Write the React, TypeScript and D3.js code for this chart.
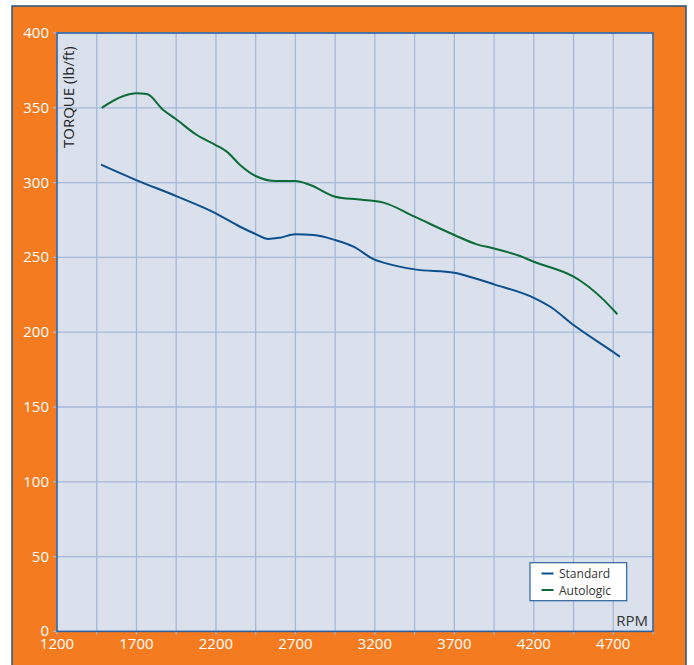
import React from "react";
import * as d3 from "d3";

const standardRpm = [1477, 1698, 1950, 2199, 2352, 2450, 2530, 2604, 2698, 2814, 2951, 3066, 3198, 3254, 3450, 3700, 3759, 3950, 4200, 4304, 4450, 4702, 4742];
const standardTorque = [312, 301.7, 291, 279.5, 270.5, 265.6, 262.3, 263.2, 265.4, 265, 261.6, 257.2, 248.5, 246.5, 242, 239.8, 238.2, 232, 223, 217, 204.8, 186.6, 183.6];

const autoRpm = [1481, 1618, 1698, 1765, 1869, 1950, 2080, 2199, 2268, 2352, 2450, 2582, 2698, 2793, 2951, 3087, 3198, 3254, 3450, 3700, 3842, 3950, 4113, 4200, 4450, 4495, 4702, 4726];
const autoTorque = [350, 357.9, 359.7, 359.2, 348.5, 342.3, 331.8, 325.1, 320.7, 311.8, 304.4, 301, 301, 298.4, 290.6, 288.8, 287.7, 286.6, 277.2, 265, 258.7, 256, 250.9, 247.1, 237.1, 234.2, 214.8, 212];

const xTickLabels = [1200, 1700, 2200, 2700, 3200, 3700, 4200, 4700];
const xGrid = d3.range(1200, 4951, 250);
const yTicks = [0, 50, 100, 150, 200, 250, 300, 350, 400];
const seriesNames = ["Standard", "Autologic"];

const W = 694, H = 665;
const left = 57, right = 653, top = 33, bottom = 631.4;
const font = "'Open Sans', 'Noto Sans', sans-serif";
const blue = "#0b4f8f";
const green = "#0b6b37";

export default function App() {
  const x = d3.scaleLinear().domain([1200, 4950]).range([left, right]);
  const y = d3.scaleLinear().domain([0, 400]).range([bottom, top]);
  const line = d3.line<[number, number]>().x(d => x(d[0])).y(d => y(d[1])).curve(d3.curveMonotoneX);
  const std = standardRpm.map((r, i) => [r, standardTorque[i]] as [number, number]);
  const aut = autoRpm.map((r, i) => [r, autoTorque[i]] as [number, number]);

  return (
    <svg width={W} height={H} style={{ position: "absolute", left: 0, top: 0 }} fontFamily={font}>
      <rect x={12} y={6} width={674} height={670} fill="#f47b20" stroke="#1f5585" strokeWidth={1.5} />
      <rect x={left} y={top} width={right - left} height={bottom - top} fill="#dae1ed" />
      {xGrid.map(v => (
        <line key={"xg" + v} x1={x(v)} x2={x(v)} y1={top} y2={bottom} stroke="#a6b8d8" strokeWidth={1.3} />
      ))}
      {yTicks.map(v => (
        <line key={"yg" + v} x1={left} x2={right} y1={y(v)} y2={y(v)} stroke="#a6b8d8" strokeWidth={1.3} />
      ))}
      {xGrid.map(v => (
        <line key={"xt" + v} x1={x(v)} x2={x(v)} y1={bottom} y2={bottom + 3} stroke="#a6b8d8" strokeWidth={1.3} />
      ))}
      {yTicks.map(v => (
        <line key={"yt" + v} x1={left - 4} x2={left} y1={y(v)} y2={y(v)} stroke="#a6b8d8" strokeWidth={1.3} />
      ))}
      <rect x={left} y={top} width={right - left} height={bottom - top} fill="none" stroke="#2a62a0" strokeWidth={1.5} />
      {yTicks.map(v => (
        <text key={"yl" + v} x={49} y={y(v) + 5} textAnchor="end" fill="#fff" fontSize={15}>{v}</text>
      ))}
      {xTickLabels.map(v => (
        <text key={"xl" + v} x={x(v)} y={649} textAnchor="middle" fill="#fff" fontSize={15}>{v}</text>
      ))}
      <path d={line(std) || ""} fill="none" stroke={blue} strokeWidth={2} />
      <path d={line(aut) || ""} fill="none" stroke={green} strokeWidth={2} />
      <text transform={`translate(74,148) rotate(-90)`} fill="#222" fontSize={15}>TORQUE (lb/ft)</text>
      <text x={648} y={626} textAnchor="end" fill="#333" fontSize={15}>RPM</text>
      <rect x={530} y={562.7} width={96.7} height={38} fill="#fff" stroke="#2a62a0" strokeWidth={1.2} />
      {seriesNames.map((n, i) => (
        <g key={n}>
          <line x1={541.5} x2={553.5} y1={573.5 + i * 16.5} y2={573.5 + i * 16.5} stroke={i === 0 ? blue : green} strokeWidth={2} />
          <text x={559} y={578 + i * 16.5} fill="#333" fontSize={12}>{n}</text>
        </g>
      ))}
    </svg>
  );
}
